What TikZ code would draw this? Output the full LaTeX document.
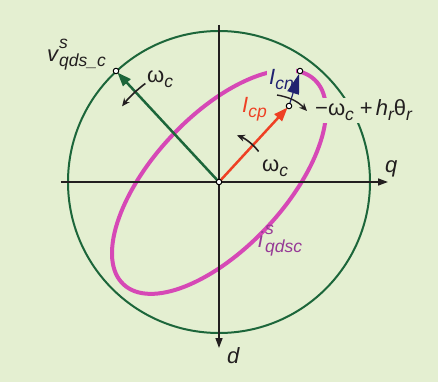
\documentclass[tikz,border=0pt]{standalone}
\usepackage{fontspec}
\setmainfont{Liberation Sans}
\usetikzlibrary{arrows.meta}
\definecolor{bgc}{RGB}{228,239,209}
\definecolor{cgreen}{RGB}{28,102,58}
\definecolor{cmag}{RGB}{214,72,182}
\definecolor{cred}{RGB}{238,64,36}
\definecolor{cnavy}{RGB}{32,34,112}
\definecolor{cpurp}{RGB}{150,58,150}
\definecolor{ctext}{RGB}{35,31,32}
\newcommand{\bigsz}{\fontsize{22}{25}\selectfont}
\newcommand{\smsz}{\fontsize{17.5}{20}\selectfont}
\newcommand{\lo}[1]{\raisebox{-0.22em}{\smsz\itshape #1}}
\newcommand{\hi}[1]{\raisebox{0.6em}{\smsz\itshape #1}}
\newcommand{\hilo}[2]{\rlap{\hi{#1}}\lo{#2}}
\begin{document}
\begin{tikzpicture}[x=1pt,y=1pt,
  lbl/.style={inner sep=0pt, text=ctext, font=\bigsz, anchor=base west},
  gap/.style={fill=bgc, inner sep=2pt},
  axis/.style={draw=ctext, line width=1.5pt, -{Triangle[length=10pt,width=7pt]}},
  turn/.style={draw=ctext, line width=1.6pt, -{Stealth[length=8pt,width=7pt]}},
  dot/.style={circle, draw=black, fill=white, line width=1pt, inner sep=0pt, minimum size=5.5pt}]
\useasboundingbox[fill=bgc] (-219,-200) rectangle (219,182);
% circle and ellipse
\draw[cgreen, line width=2pt] (0,0) circle[radius=151];
\draw[cmag, line width=4pt] (0,0) ellipse[x radius=140, y radius=66, rotate=47];
% labels that interrupt curves
\node[lbl, gap, text=cnavy] (lcn) at (48,97) {\itshape I\lo{cn}};
\node[lbl, gap] (lneg) at (94,66) {−ω\lo{c}\kern6pt+\kern3pt{\itshape h}\lo{r}θ\lo{r}};
% axes
\coordinate (xl) at (-158,0);
\coordinate (xr) at (169,0);
\coordinate (yt) at (0,157);
\coordinate (yb) at (0,-166);
\draw[axis] (xl) -- (xr);
\draw[axis] (yt) -- (yb);
% points
\coordinate (O) at (0,0);
\coordinate (V) at (-103,111);
\coordinate (P) at (70,76);
\coordinate (N) at (81,111);
% vectors
\draw[cgreen, line width=2.5pt, -{Triangle[length=14pt,width=10pt]}, shorten >=2pt] (O) -- (V);
\draw[cred, line width=2.5pt, -{Triangle[length=14pt,width=10pt]}, shorten >=2pt] (O) -- (P);
\draw[cnavy, line width=1.2pt, -{Triangle[length=20pt,width=12pt]}, shorten >=3pt] (P) -- (N);
% rotation arrows
\draw[turn] (126.8:123) arc[start angle=126.8, end angle=142, radius=123];
\draw[turn] (37.6:50) arc[start angle=37.6, end angle=69, radius=50];
\coordinate (ta) at (58,87);
\coordinate (tb) at (88,71);
\draw[turn, line width=1.4pt] (ta) to[bend left=18] (tb);
% dots
\node[dot] (dO) at (O) {};
\node[dot] (dV) at (V) {};
\node[dot] (dP) at (P) {};
\node[dot] (dN) at (N) {};
% other labels
\node[lbl] (lv) at (-172,120) {\itshape v\kern1pt\hilo{s}{qds\_c}};
\node[lbl] (lw1) at (-72,99) {ω\lo{c}};
\node[lbl] (lw2) at (43,10) {ω\lo{c}};
\node[lbl, text=cred] (lcp) at (23,69) {\itshape I\lo{cp}};
\node[lbl, text=cpurp] (li) at (39,-66) {\itshape i\kern2pt\hilo{s}{qdsc}};
\node[lbl] (lq) at (166,9) {\itshape q};
\node[lbl] (ld) at (8,-181) {\itshape d};
\end{tikzpicture}
\end{document}
